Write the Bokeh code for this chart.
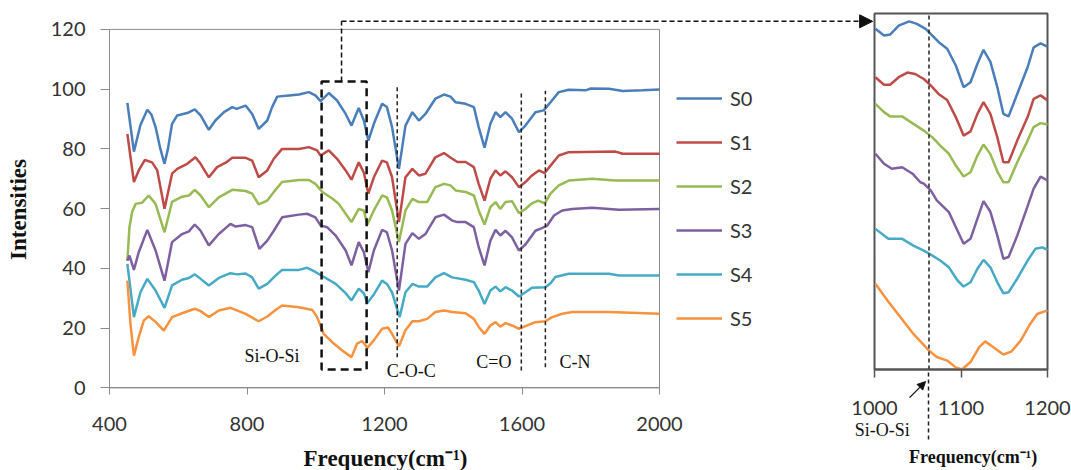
from bokeh.plotting import figure
from bokeh.models import (Range1d, FixedTicker, Legend, LegendItem, Label, Arrow,
                          NormalHead, LinearAxis)
from bokeh.embed import file_html
from bokeh.resources import INLINE
from bokeh.core.properties import value

# ---------------- data: main spectrum (frequency cm-1, intensity) ----------------
s0_x = [452, 471, 490, 510, 522, 534, 548, 560, 570, 582, 597, 626, 648, 665, 689, 708, 733, 757, 770, 796,
        815, 834, 859, 873, 888, 922, 951, 980, 999, 1014, 1038, 1062, 1087, 1104, 1125, 1140, 1153, 1169,
        1193, 1207, 1222, 1242, 1261, 1281, 1300, 1319, 1348, 1373, 1392, 1407, 1436, 1460, 1474, 1491,
        1508, 1523, 1537, 1552, 1571, 1591, 1610, 1639, 1663, 1683, 1707, 1736, 1785, 1800, 1853, 1893,
        1950, 2000]
s0_y = [95.4, 79.1, 88.0, 93.1, 91.5, 87.3, 80.0, 75.0, 80.0, 88.4, 91.2, 92.0, 93.2, 91.2, 86.4, 89.5, 92.3,
        94.0, 93.4, 94.5, 91.7, 86.7, 89.5, 94.0, 97.5, 97.9, 98.2, 99.0, 97.9, 96.0, 98.7, 96.2, 91.7, 87.8,
        93.7, 89.5, 82.8, 88.4, 95.1, 94.0, 87.3, 73.3, 87.8, 92.3, 89.5, 91.7, 96.8, 98.2, 97.5, 95.6, 95.1,
        94.0, 87.3, 80.4, 88.4, 92.3, 90.6, 92.3, 90.1, 85.6, 87.8, 92.3, 92.9, 95.6, 99.0, 99.8, 99.6, 100.2,
        100.1, 99.4, 99.6, 99.9]

s1_x = [452, 471, 485, 503, 524, 539, 560, 582, 597, 626, 650, 665, 689, 713, 738, 757, 796, 815, 834, 859,
        878, 902, 951, 980, 1004, 1014, 1038, 1062, 1087, 1104, 1125, 1140, 1153, 1169, 1193, 1207, 1222,
        1242, 1261, 1281, 1300, 1319, 1348, 1373, 1397, 1412, 1436, 1460, 1474, 1491, 1508, 1523, 1537,
        1552, 1571, 1591, 1610, 1629, 1649, 1666, 1683, 1707, 1736, 1872, 1893, 2000]
s1_y = [85.0, 68.9, 72.8, 76.3, 75.5, 72.8, 60.0, 71.7, 73.3, 75.0, 77.2, 75.0, 70.5, 73.9, 75.4, 77.0, 77.0,
        76.1, 70.5, 72.8, 76.7, 80.0, 80.0, 80.6, 79.5, 77.8, 79.5, 76.7, 72.8, 69.7, 75.5, 72.0, 65.0, 70.5,
        76.1, 75.5, 70.5, 55.5, 70.5, 73.3, 71.1, 71.7, 77.2, 78.6, 76.7, 75.6, 75.6, 73.9, 68.3, 62.7, 70.0,
        72.8, 71.1, 72.5, 70.5, 67.2, 68.9, 71.1, 72.8, 71.9, 74.4, 77.8, 78.9, 79.1, 78.4, 78.4]

s2_x = [452, 458, 466, 476, 495, 514, 534, 560, 582, 611, 631, 648, 665, 689, 718, 757, 796, 815, 834, 859,
        878, 902, 951, 980, 999, 1019, 1048, 1067, 1087, 1104, 1125, 1140, 1150, 1169, 1193, 1207, 1222,
        1242, 1261, 1281, 1300, 1324, 1348, 1373, 1392, 1407, 1436, 1460, 1474, 1491, 1508, 1523, 1537,
        1552, 1571, 1591, 1610, 1629, 1647, 1666, 1683, 1707, 1736, 1804, 1872, 2000]
s2_y = [42.5, 53.8, 59.0, 61.6, 62.0, 64.4, 61.6, 52.1, 62.3, 64.0, 64.4, 66.3, 64.4, 60.5, 63.8, 66.3, 65.9,
        65.0, 61.4, 62.7, 65.6, 68.9, 69.6, 69.6, 68.3, 65.6, 63.4, 61.6, 58.3, 55.5, 59.9, 59.4, 54.7, 59.4,
        64.4, 63.8, 59.4, 48.8, 59.4, 63.3, 62.2, 62.2, 67.2, 68.3, 67.8, 66.1, 65.6, 64.4, 59.4, 54.7, 60.5,
        62.2, 59.9, 62.2, 62.5, 58.5, 59.9, 61.8, 62.7, 61.8, 65.0, 67.8, 69.4, 70.0, 69.4, 69.4]

s3_x = [452, 458, 471, 485, 510, 534, 560, 582, 611, 631, 648, 665, 689, 718, 752, 767, 796, 815, 836, 859,
        878, 902, 951, 975, 999, 1014, 1033, 1058, 1087, 1104, 1125, 1140, 1153, 1169, 1193, 1207, 1222,
        1242, 1261, 1281, 1300, 1319, 1348, 1373, 1397, 1412, 1436, 1460, 1474, 1491, 1508, 1523, 1537,
        1552, 1571, 1591, 1610, 1639, 1658, 1673, 1693, 1717, 1746, 1804, 1882, 2000]
s3_y = [42.6, 44.3, 39.5, 45.4, 52.9, 46.0, 35.9, 48.8, 51.5, 52.4, 54.7, 52.6, 47.7, 51.5, 54.9, 54.0, 54.5,
        53.8, 46.5, 49.3, 52.6, 57.1, 58.0, 58.3, 57.1, 54.4, 53.8, 51.0, 46.0, 41.0, 48.8, 45.4, 38.7, 46.0,
        52.9, 52.1, 46.0, 32.6, 48.2, 51.8, 49.9, 51.5, 57.1, 58.0, 56.0, 55.5, 55.5, 53.8, 47.1, 41.0, 49.3,
        52.9, 51.0, 52.6, 50.4, 46.0, 48.0, 52.6, 53.5, 54.3, 57.7, 59.4, 59.9, 60.3, 59.6, 59.9]

s4_x = [452, 471, 490, 510, 534, 560, 582, 611, 631, 648, 665, 689, 718, 752, 771, 796, 815, 834, 859, 883,
        902, 951, 975, 999, 1029, 1058, 1087, 1104, 1125, 1140, 1150, 1169, 1193, 1207, 1222, 1244, 1261,
        1281, 1300, 1324, 1348, 1373, 1397, 1436, 1460, 1474, 1491, 1508, 1523, 1537, 1552, 1571, 1591,
        1610, 1629, 1668, 1683, 1697, 1736, 1853, 1882, 2000]
s4_y = [41.5, 23.7, 32.0, 36.5, 32.6, 26.8, 34.3, 36.2, 36.8, 38.0, 36.5, 34.3, 36.8, 38.4, 38.0, 38.3, 37.0,
        33.2, 34.8, 37.6, 39.5, 39.5, 40.2, 38.8, 36.8, 34.8, 31.7, 29.3, 33.2, 31.7, 28.4, 31.3, 35.9, 34.8,
        32.0, 23.7, 32.0, 34.8, 33.9, 33.9, 37.0, 38.4, 37.0, 36.2, 35.4, 32.6, 28.1, 32.6, 33.9, 32.3, 33.7,
        32.6, 30.6, 32.0, 33.5, 33.7, 35.0, 37.1, 38.2, 38.2, 37.6, 37.6]

s5_x = [452, 461, 471, 485, 500, 514, 534, 558, 582, 611, 648, 665, 689, 718, 752, 796, 834, 859, 883, 902,
        951, 990, 1004, 1023, 1048, 1077, 1104, 1120, 1135, 1150, 1169, 1193, 1210, 1222, 1242, 1261, 1281,
        1300, 1324, 1348, 1373, 1397, 1436, 1460, 1474, 1491, 1508, 1523, 1537, 1552, 1571, 1591, 1610,
        1639, 1668, 1688, 1717, 1746, 1853, 2000]
s5_y = [35.9, 21.4, 10.8, 17.0, 22.6, 24.0, 22.1, 19.2, 23.7, 25.0, 26.5, 25.7, 23.7, 25.9, 26.8, 24.8, 22.3,
        23.9, 26.1, 27.6, 27.0, 26.1, 23.7, 18.1, 15.3, 12.5, 10.3, 14.8, 15.7, 13.4, 15.9, 19.8, 20.2, 18.1,
        13.9, 19.3, 22.3, 22.3, 23.1, 25.4, 25.9, 25.4, 25.0, 23.1, 20.4, 18.1, 20.9, 22.0, 20.5, 21.7, 20.9,
        19.8, 20.7, 22.0, 22.3, 23.7, 24.8, 25.4, 25.4, 24.8]

# ---------------- data: inset (1000-1200 cm-1, relative scale 0-100) ----------------
i0_x = [1001, 1011, 1018, 1028, 1040, 1049, 1059, 1067, 1074, 1084, 1094, 1103, 1111, 1119, 1126, 1134, 1142,
        1149, 1155, 1165, 1177, 1184, 1192, 1200]
i0_y = [95.7, 93.8, 94.1, 96.6, 97.8, 97.1, 95.7, 93.8, 92.0, 90.1, 85.4, 79.3, 80.7, 85.9, 89.8, 86.4, 79.3,
        71.8, 71.1, 77.4, 84.9, 90.5, 91.6, 90.7]
i1_x = [1001, 1011, 1018, 1028, 1038, 1047, 1057, 1065, 1074, 1084, 1094, 1103, 1111, 1119, 1126, 1134, 1142,
        1149, 1155, 1165, 1177, 1184, 1192, 1200]
i1_y = [82.1, 80.0, 80.0, 82.1, 83.4, 83.0, 81.6, 79.8, 77.4, 75.7, 70.9, 65.7, 66.9, 71.8, 75.1, 71.8, 65.2,
        58.2, 58.2, 64.3, 70.9, 76.0, 77.0, 75.6]
i2_x = [1001, 1011, 1018, 1032, 1045, 1057, 1067, 1076, 1086, 1094, 1103, 1111, 1119, 1126, 1134, 1142, 1149,
        1155, 1165, 1177, 1184, 1192, 1200]
i2_y = [74.6, 72.3, 71.1, 71.1, 69.0, 67.1, 65.2, 62.9, 60.6, 57.3, 54.2, 55.4, 60.1, 63.2, 60.5, 55.6, 52.6,
        52.6, 58.2, 64.3, 68.1, 69.2, 68.8]
i3_x = [1001, 1011, 1020, 1032, 1044, 1053, 1057, 1065, 1072, 1086, 1096, 1103, 1111, 1119, 1126, 1134, 1142,
        1149, 1155, 1165, 1177, 1184, 1192, 1200]
i3_y = [60.6, 57.8, 56.4, 56.8, 55.0, 52.6, 52.2, 50.3, 47.5, 44.2, 39.0, 35.3, 36.7, 42.4, 47.3, 44.3, 37.6,
        31.1, 31.6, 37.6, 45.9, 50.8, 54.2, 53.1]
i4_x = [1001, 1016, 1032, 1045, 1057, 1067, 1076, 1086, 1096, 1103, 1111, 1119, 1126, 1134, 1142, 1149, 1155,
        1165, 1177, 1186, 1194, 1200]
i4_y = [39.5, 36.7, 36.7, 34.8, 33.4, 32.0, 30.6, 28.7, 25.0, 23.3, 24.5, 28.3, 30.8, 28.7, 24.5, 21.4, 21.7,
        25.5, 30.6, 33.9, 34.3, 33.6]
i5_x = [1001, 1015, 1030, 1045, 1063, 1072, 1084, 1094, 1101, 1111, 1121, 1128, 1137, 1149, 1158, 1169, 1180,
        1188, 1200]
i5_y = [24.1, 19.4, 14.7, 10.0, 5.3, 3.5, 2.5, 0.6, 0.0, 2.1, 6.3, 7.9, 6.3, 4.2, 5.0, 8.1, 12.8, 15.6, 16.6]

series_names = ["S0", "S1", "S2", "S3", "S4", "S5"]
series_colors = ["#4A7EBB", "#BE4B48", "#98B954", "#7D60A0", "#46AAC5", "#F69240"]
main_x = [s0_x, s1_x, s2_x, s3_x, s4_x, s5_x]
main_y = [s0_y, s1_y, s2_y, s3_y, s4_y, s5_y]
inset_x = [i0_x, i1_x, i2_x, i3_x, i4_x, i5_x]
inset_y = [i0_y, i1_y, i2_y, i3_y, i4_y, i5_y]

x_ticks = [400, 800, 1200, 1600, 2000]
y_ticks = [0, 20, 40, 60, 80, 100, 120]
inset_ticks = [1000, 1100, 1200]

# band markers and labels (main chart coordinates)
band_x = [1237, 1598, 1668]
band_top = [100.6, 98.6, 99.5]
band_bottom = [10.3, 5.8, 6.9]
band_label_x = [873, 1278, 1518, 1754]
band_label_y = [10.8, 5.5, 8.6, 8.6]
band_label_text = ["Si-O-Si", "C-O-C", "C=O", "C-N"]

# zoom box and connector (main chart coordinates)
zoom_box = dict(left=[1017], right=[1148], bottom=[6.2], top=[102.6])
connector_x = [1075, 1075]
connector_y = [102.6, 122.7]
connector_end_x = 2620
# inset markers (inset coordinates)
inset_mark_x = 1063
inset_mark_len_px = 70

TICK_FONT = "Lato"
SERIF = "Liberation Serif"
AXIS_GREY = "#8C8C8C"
INSET_GREY = "#555555"
TXT = "#333333"
INK = "#111111"

# pixel geometry of the two plot areas inside the 1071x470 canvas
W, H = 1071, 470
mx_px = (109.0, 659.0)    # main x 400 -> 2000
my_px = (387.4, 28.9)     # main y 0 -> 120 (from top)
ix_px = (874.0, 1047.0)   # inset x 1000 -> 1200
iy_px = (369.0, 13.0)     # inset y 0 -> 100 (from top)

def span(px0, px1, v0, v1, total):
    k = (v1 - v0) / (px1 - px0)
    return v0 - px0 * k, v0 + (total - px0) * k

mx0, mx1 = span(mx_px[0], mx_px[1], 400, 2000, W)
my0, my1 = span(H - my_px[0], H - my_px[1], 0, 120, H)
ix0, ix1 = span(ix_px[0], ix_px[1], 1000, 1200, W)
iy0, iy1 = span(H - iy_px[0], H - iy_px[1], 0, 100, H)

p = figure(width=W, height=H, output_backend="svg", toolbar_location=None, title=None,
           x_range=Range1d(mx0, mx1), y_range=Range1d(my0, my1),
           x_axis_location=None, y_axis_location=None,
           min_border_left=0, min_border_right=0, min_border_top=0, min_border_bottom=0)
p.extra_x_ranges = {"inset": Range1d(ix0, ix1)}
p.extra_y_ranges = {"inset": Range1d(iy0, iy1)}
p.outline_line_color = None
p.xgrid.visible = False
p.ygrid.visible = False
p.background_fill_color = "white"
p.border_fill_color = "white"

# ---- main axes (fixed at the data origin) ----
xa = LinearAxis(fixed_location=0, ticker=FixedTicker(ticks=x_ticks), bounds=(400, 2000))
xa.axis_line_color = AXIS_GREY
xa.major_tick_line_color = AXIS_GREY
xa.major_tick_out = 7
xa.major_tick_in = 0
xa.minor_tick_out = 0
xa.minor_tick_in = 0
xa.major_label_standoff = 22
xa.major_label_text_font = TICK_FONT
xa.major_label_text_font_size = "20px"
xa.major_label_text_color = TXT
p.add_layout(xa, "below")

ya = LinearAxis(fixed_location=400, ticker=FixedTicker(ticks=y_ticks), bounds=(0, 120))
ya.axis_line_color = AXIS_GREY
ya.major_tick_line_color = AXIS_GREY
ya.major_tick_out = 9
ya.major_tick_in = 0
ya.minor_tick_out = 0
ya.minor_tick_in = 0
ya.major_label_standoff = 15
ya.major_label_text_font = TICK_FONT
ya.major_label_text_font_size = "20px"
ya.major_label_text_color = TXT
p.add_layout(ya, "left")

# plot-area border
p.quad(left=[400], right=[2000], bottom=[0], top=[120], fill_color=None,
       line_color=AXIS_GREY, line_width=1)

items = []
for name, xs, ys, col in zip(series_names, main_x, main_y, series_colors):
    r = p.line(xs, ys, line_color=col, line_width=2.5)
    items.append(LegendItem(label=name, renderers=[r]))

legend = Legend(items=items, location=(676, 140), orientation="vertical",
                glyph_width=46, glyph_height=20, label_height=20, spacing=20,
                padding=0, margin=0, border_line_color=None, background_fill_alpha=0,
                label_standoff=8, label_text_font=TICK_FONT, label_text_font_size="20px",
                label_text_color=TXT)
p.add_layout(legend)

# band markers
p.segment(x0=band_x, y0=band_bottom, x1=band_x, y1=band_top, line_color="#222222",
          line_width=1.5, line_dash="4 3")
p.text(x=band_label_x, y=band_label_y, text=band_label_text, text_font=value(SERIF),
       text_font_size="18px", text_align="center", text_baseline="middle", text_color=INK)

# zoom box and connector
p.quad(fill_color=None, line_color=INK, line_width=2.5, line_dash="8 5", **zoom_box)
p.line(connector_x, connector_y, line_color=INK, line_width=1.5, line_dash="5 3")
p.add_layout(Arrow(end=NormalHead(size=13, fill_color=INK, line_color=INK),
                   x_start=connector_x[-1], y_start=connector_y[-1],
                   x_end=connector_end_x, y_end=connector_y[-1],
                   line_color=INK, line_width=1.5, line_dash="5 3"))

# axis titles
p.add_layout(Label(x=1203, y=-23.6, text="Frequency(cm\u207b\u00b9)", text_align="center",
                   text_baseline="middle", text_font=SERIF, text_font_style="bold",
                   text_font_size="23px", text_color=INK))
p.add_layout(Label(x=135, y=59.7, text="Intensities", angle=90, angle_units="deg",
                   text_align="center", text_baseline="middle", text_font=SERIF,
                   text_font_style="bold", text_font_size="23px", text_color=INK))

# ---------------- inset ----------------
IR = dict(x_range_name="inset", y_range_name="inset")

qa = LinearAxis(fixed_location=0, ticker=FixedTicker(ticks=inset_ticks), bounds=(1000, 1200), **IR)
qa.axis_line_color = INSET_GREY
qa.axis_line_width = 2
qa.major_tick_line_color = INSET_GREY
qa.major_tick_line_width = 1.5
qa.major_tick_out = 8
qa.major_tick_in = 0
qa.minor_tick_in = 0
qa.minor_tick_out = 0
qa.major_label_standoff = 23
qa.major_label_text_font = TICK_FONT
qa.major_label_text_font_size = "20px"
qa.major_label_text_color = TXT
p.add_layout(qa, "below")

# dashed Si-O-Si marker running through the inset and below it
qm = LinearAxis(fixed_location=0, ticker=FixedTicker(ticks=[inset_mark_x]), **IR)
qm.axis_line_color = None
qm.major_tick_out = inset_mark_len_px
qm.major_tick_in = 0
qm.minor_tick_out = 0
qm.minor_tick_in = 0
qm.major_tick_line_color = "#222222"
qm.major_tick_line_width = 1.5
qm.major_tick_line_dash = "4 3"
qm.major_label_overrides = {inset_mark_x: ""}
qm.major_label_text_font_size = "1px"
p.add_layout(qm, "below")

p.quad(left=[1000], right=[1200], bottom=[0], top=[100], fill_color=None,
       line_color=INSET_GREY, line_width=2, **IR)
for xs, ys, col in zip(inset_x, inset_y, series_colors):
    p.line(xs, ys, line_color=col, line_width=2.5, **IR)

p.segment(x0=[inset_mark_x], y0=[0], x1=[inset_mark_x], y1=[100], line_color="#222222",
          line_width=1.5, line_dash="4 3", **IR)

p.add_layout(Arrow(end=NormalHead(size=8, fill_color=INK, line_color=INK),
                   x_start=1040.5, y_start=-7.9, x_end=1059, y_end=-3.4,
                   line_color=INK, line_width=1.3, **IR))
p.add_layout(Label(x=1009, y=-17.1, text="Si-O-Si", text_align="center", text_baseline="middle",
                   text_font=SERIF, text_font_size="18px", text_color=INK, **IR))
p.add_layout(Label(x=1114, y=-24.6, text="Frequency(cm\u207b\u00b9)", text_align="center",
                   text_baseline="middle", text_font=SERIF, text_font_style="bold",
                   text_font_size="18px", text_color=INK, **IR))

open("out.html", "w").write(file_html(p, INLINE))
